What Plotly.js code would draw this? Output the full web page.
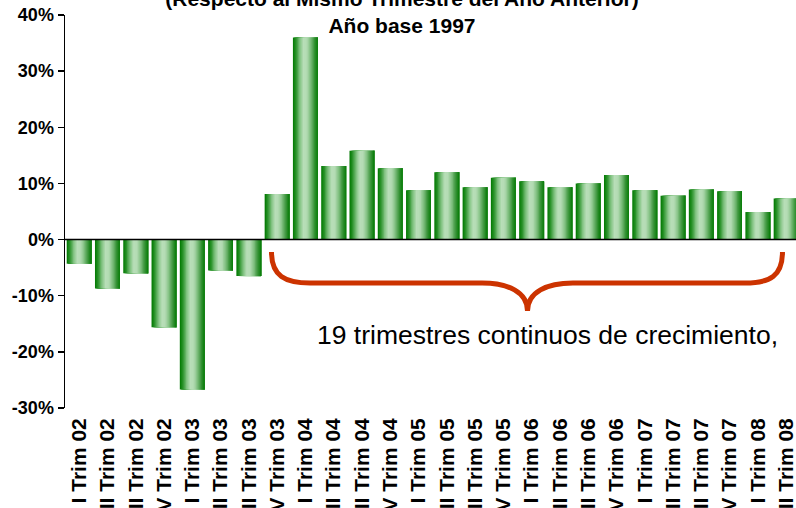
<!DOCTYPE html>
<html>
<head>
<meta charset="utf-8">
<script src="https://cdn.plot.ly/plotly-3.0.1.min.js"></script>
<style>html,body{margin:0;padding:0;background:#fff;overflow:hidden}</style>
</head>
<body>
<div id="chart" style="width:796px;height:508px"></div>
<script>
// ---- data ----
const categories = [
  "I Trim 02","II Trim 02","III Trim 02","IV Trim 02",
  "I Trim 03","II Trim 03","III Trim 03","IV Trim 03",
  "I Trim 04","II Trim 04","III Trim 04","IV Trim 04",
  "I Trim 05","II Trim 05","III Trim 05","IV Trim 05",
  "I Trim 06","II Trim 06","III Trim 06","IV Trim 06",
  "I Trim 07","II Trim 07","III Trim 07","IV Trim 07",
  "I Trim 08","II Trim 08"
];
const growth = [
  -4.3, -8.7, -6.0, -15.6,
  -26.7, -5.5, -6.5, 8.1,
  36.0, 13.1, 15.8, 12.7,
  8.8, 12.0, 9.3, 11.0,
  10.4, 9.3, 10.0, 11.5,
  8.8, 7.8, 8.9, 8.6,
  4.9, 7.3
];
const yTickVals = [-30, -20, -10, 0, 10, 20, 30, 40];
const yTickText = ["-30%", "-20%", "-10%", "0%", "10%", "20%", "30%", "40%"];
const titleText = "(Respecto al Mismo Trimestre del Año Anterior)<br>Año base 1997";
const noteText = "19 trimestres continuos de crecimiento,";

// ---- style: cylinder-like shading across each bar ----
const shade = [
  [0.00, [0, 120, 0]],
  [0.12, [40, 145, 40]],
  [0.28, [130, 195, 130]],
  [0.42, [184, 222, 184]],
  [0.55, [180, 220, 180]],
  [0.70, [130, 192, 130]],
  [0.85, [60, 150, 60]],
  [1.00, [5, 122, 5]]
];
function shadeAt(t) {
  for (let i = 1; i < shade.length; i++) {
    if (t <= shade[i][0]) {
      const a = shade[i-1], b = shade[i];
      const f = (t - a[0]) / (b[0] - a[0]);
      const c = a[1].map((v, k) => Math.round(v + (b[1][k] - v) * f));
      return "rgb(" + c.join(",") + ")";
    }
  }
  return "rgb(5,122,5)";
}
const barW = 0.88, slices = 20;
const traces = [];
for (let i = 0; i < slices; i++) {
  const start = -barW / 2 + i * barW / slices;
  traces.push({
    type: "bar",
    x: categories,
    y: growth,
    offset: start,
    width: barW / 2 - start,
    marker: {color: shadeAt((i + 0.5) / slices), line: {width: 0}},
    hoverinfo: i === 0 ? "x+y" : "skip",
    showlegend: false
  });
}

// ---- layout helpers (pixel -> paper) ----
const W = 796, H = 508, mL = 65, mR = 0, mT = 15, mB = 100;
const pw = W - mL - mR, ph = H - mT - mB;
const px = v => ((v - mL) / pw).toFixed(4);
const py = v => ((H - mB - v) / ph).toFixed(4);
const P = (x, y) => px(x) + "," + py(y);
const bracePath =
  "M" + P(271.5, 252) +
  " C" + P(271.5, 276) + " " + P(285, 283) + " " + P(310, 283) +
  " L" + P(482, 283) +
  " C" + P(508, 283) + " " + P(527.5, 292) + " " + P(527.5, 311) +
  " C" + P(527.5, 292) + " " + P(547, 283) + " " + P(573, 283) +
  " L" + P(745, 283) +
  " C" + P(770, 283) + " " + P(782.5, 276) + " " + P(782.5, 252);

const font = {family: "'Liberation Sans', Arial, sans-serif", color: "#000"};

const layout = {
  width: W, height: H,
  margin: {l: mL, r: mR, t: mT, b: mB},
  paper_bgcolor: "#fff", plot_bgcolor: "#fff",
  barmode: "overlay",
  font: font,
  title: {
    text: titleText,
    font: Object.assign({}, font, {size: 21, weight: "bold"}),
    x: 0.505, xanchor: "center",
    xref: "container", yref: "container",
    y: 1 - 6 / H, yanchor: "bottom"
  },
  xaxis: {
    type: "category",
    range: [-0.5, 25.35],
    tickangle: -90,
    ticks: "",
    ticklabelstandoff: 5,
    showline: false,
    showgrid: false,
    zeroline: false,
    tickfont: Object.assign({}, font, {size: 21, weight: "bold"}),
    automargin: false
  },
  yaxis: {
    range: [-30, 40],
    tickvals: yTickVals,
    ticktext: yTickText,
    ticks: "outside",
    ticklen: 6,
    tickwidth: 1.5,
    tickcolor: "#000",
    showline: true,
    linecolor: "#000",
    linewidth: 1.5,
    showgrid: false,
    zeroline: false,
    tickfont: Object.assign({}, font, {size: 18, weight: "bold"}),
    automargin: false
  },
  shapes: [
    {type: "line", xref: "paper", yref: "y", x0: 0, x1: 1, y0: 0, y1: 0,
     line: {color: "#000", width: 1.5}, layer: "above"},
    {type: "path", xref: "paper", yref: "paper", path: bracePath,
     line: {color: "#cc3300", width: 5}, fillcolor: "rgba(0,0,0,0)", layer: "above"}
  ],
  annotations: [
    {text: noteText, xref: "paper", yref: "paper",
     x: px(548), y: py(335), xanchor: "center", yanchor: "middle",
     showarrow: false, font: Object.assign({}, font, {size: 26.5})}
  ]
};

Plotly.newPlot("chart", traces, layout, {displayModeBar: false, staticPlot: true});
</script>
</body>
</html>
